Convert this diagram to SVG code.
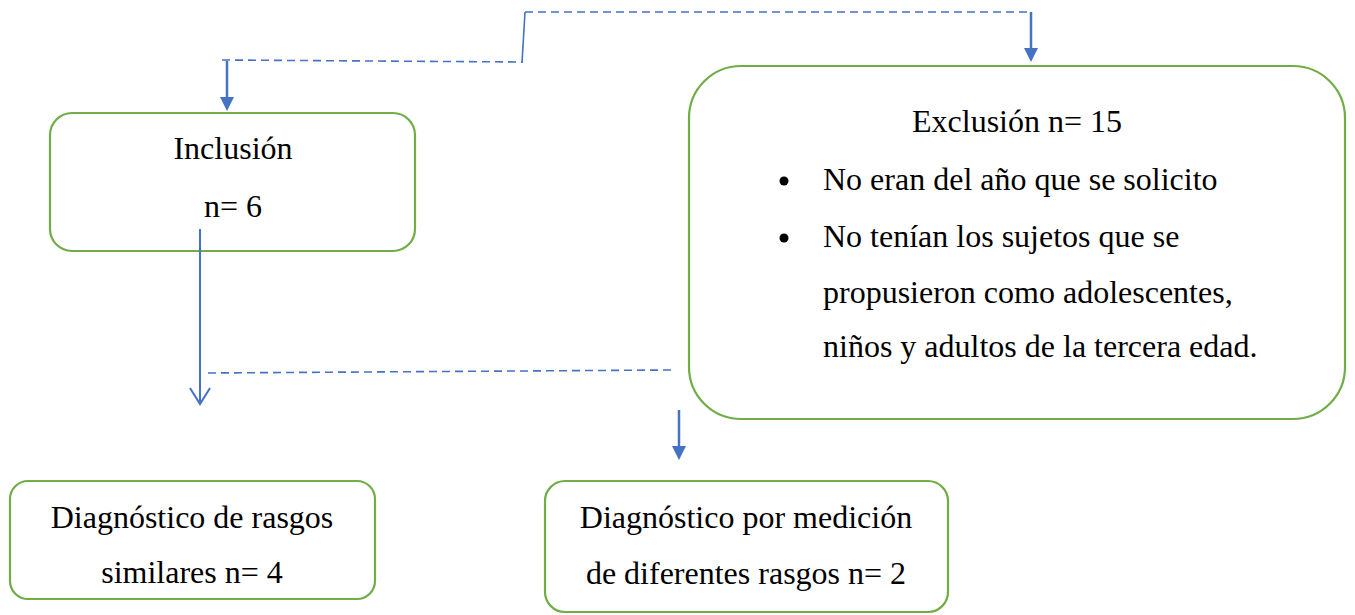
<svg xmlns="http://www.w3.org/2000/svg" width="1355" height="615" viewBox="0 0 1355 615">
<defs>
<style>
.box{fill:#fff;stroke:#70AD47;stroke-width:2.2}
.lbl{font-family:'Liberation Serif','Times New Roman',serif;font-size:32px;fill:#000}
.mid{text-anchor:middle}
.dash{fill:none;stroke:#4472C4;stroke-width:1.6;stroke-dasharray:8,5}
.sol{fill:none;stroke:#4472C4;stroke-width:1.6}
.arr{fill:none;stroke:#4472C4;stroke-width:2.5}
.head{fill:#4472C4}
</style>
</defs>
<g id="inclusion">
<rect class="box" x="50" y="113" width="365" height="138" rx="22"/>
<text class="lbl mid" x="233" y="159">Inclusión</text>
<text class="lbl mid" x="233" y="217">n= 6</text>
</g>
<g id="exclusion">
<rect class="box" x="689" y="66" width="656" height="353" rx="52"/>
<text class="lbl mid" x="1017" y="132">Exclusión n= 15</text>
<circle cx="784" cy="181" r="4.5" fill="#000"/>
<circle cx="784" cy="238" r="4.5" fill="#000"/>
<text class="lbl" x="823" y="190">No eran del año que se solicito</text>
<text class="lbl" x="823" y="247">No tenían los sujetos que se</text>
<text class="lbl" x="823" y="303">propusieron como adolescentes,</text>
<text class="lbl" x="823" y="357">niños y adultos de la tercera edad.</text>
</g>
<g id="similares">
<rect class="box" x="10" y="481" width="365" height="118" rx="18"/>
<text class="lbl mid" x="192" y="528">Diagnóstico de rasgos</text>
<text class="lbl mid" x="192" y="583">similares n= 4</text>
</g>
<g id="diferentes">
<rect class="box" x="545" y="481" width="403" height="131" rx="20"/>
<text class="lbl mid" x="746" y="528">Diagnóstico por medición</text>
<text class="lbl mid" x="746" y="584">de diferentes rasgos n= 2</text>
</g>
<g id="connectors">
<path class="dash" d="M222,60 L522,62"/>
<path class="sol" d="M522,63 L525,12"/>
<path class="dash" d="M525,12 L1031,12"/>
<path class="arr" d="M1031,12 L1031,50"/>
<polygon class="head" points="1024,48 1038,48 1031,62"/>
<path class="arr" d="M227,61 L227,99"/>
<polygon class="head" points="220,97 234,97 227,111"/>
<path class="sol" d="M200,229 L200,404" style="stroke-width:2"/>
<path class="sol" d="M190,388 L200,404 L210,388" style="stroke-width:2"/>
<path class="dash" d="M208,373 L672,370"/>
<path class="arr" d="M679,410 L679,448"/>
<polygon class="head" points="672,446 686,446 679,460"/>
</g>
</svg>
